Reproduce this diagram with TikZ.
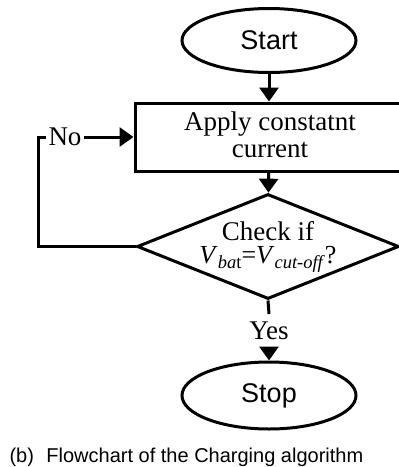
\documentclass[tikz,border=0pt]{standalone}
\usepackage{fontspec}
\setmainfont{Liberation Serif}
\setsansfont{Liberation Sans}
\usetikzlibrary{shapes.geometric, arrows.meta}

% condition text with enlarged italic subscripts
\newcommand{\subtxt}[1]{\raisebox{-0.2em}{\fontsize{18.5}{18.5}\selectfont #1}}

\begin{document}
\begin{tikzpicture}[x=1pt, y=-1pt,
  line width=3pt,
  flow/.style={-{Triangle[length=14pt,width=19pt]}},
  term/.style={ellipse, draw, minimum width=174pt, minimum height=64pt,
    inner sep=0pt, font=\sffamily\fontsize{27}{27}\selectfont},
  procbox/.style={rectangle, draw, minimum width=268pt, minimum height=68pt,
    inner sep=0pt},
  decision/.style={diamond, draw, minimum width=262pt, minimum height=105pt,
    inner sep=0pt},
  lbl/.style={font=\fontsize{27}{27}\selectfont, inner sep=1pt}
]
\useasboundingbox (0,0) rectangle (399,467);
\clip (0,0) rectangle (399,467);

% shapes
\node[term] (start) at (269,40.5) {Start};
\node[procbox] (b) at (269,137) {};
\node[lbl, anchor=base] (b1) at (270,130) {Apply constatnt};
\node[lbl, anchor=base] (b2) at (270,157) {current};
\node[decision] (d) at (268,246.5) {};
\node[lbl, inner sep=0pt, align=center, font=\fontsize{27}{22.5}\selectfont]
  (cond) at (268,247)
  {Check if\\\fontsize{26}{22.5}\selectfont
   \textit{V}\subtxt{\textit{ba}t}=\textit{V}\subtxt{\textit{cut-off}}?};
\node[term, minimum height=67pt] (stop) at (269,395.5) {Stop};

% labels on the connectors
\node[lbl, inner ysep=6pt] (yes) at (269,330.5) {Yes};
\node[lbl] (no) at (65,137) {No};
\coordinate (lc) at (38,137);

% connectors
\draw[flow] (start) -- (b);
\draw[flow] (b) -- (d);
\draw (d.south) -- (yes.north);
\draw[flow] (yes.south) -- (stop.north);
\draw (d.west) -| (lc) -- (no.west);
\draw[flow] (no.east) -- (b.west);

% caption
\node[anchor=base west, inner sep=0pt, font=\sffamily\fontsize{20}{20}\selectfont]
  (cap) at (8,462) {(b)\hspace{12.5pt}Flowchart of the Charging algorithm};
\end{tikzpicture}
\end{document}
